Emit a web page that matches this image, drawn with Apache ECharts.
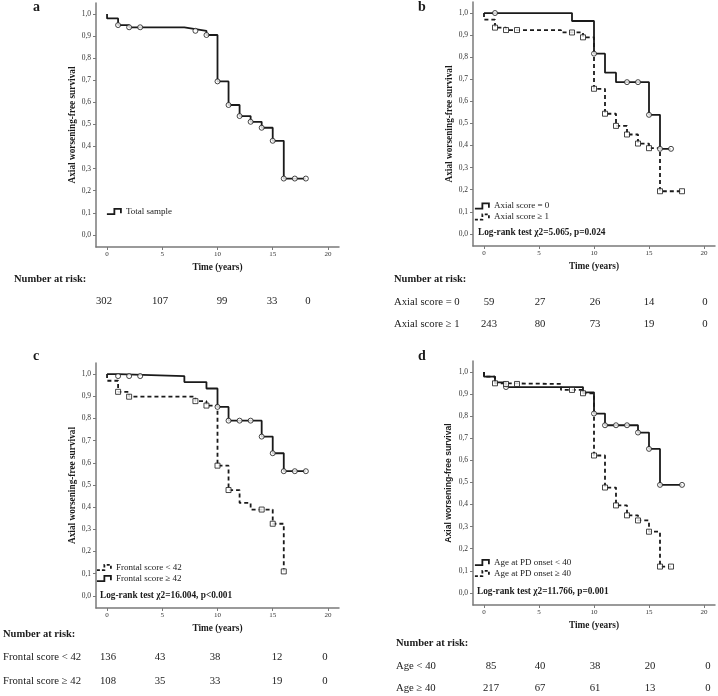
<!DOCTYPE html>
<html><head><meta charset="utf-8">
<script src="https://cdn.jsdelivr.net/npm/echarts@6/dist/echarts.min.js"></script>
<style>html,body{margin:0;padding:0;background:#fff}#c{width:718px;height:696px}</style>
</head><body><div id="c"></div>
<script>
// ---- tick labels ----
const xTicks = [0, 5, 10, 15, 20];
const yTicks = [0, 0.1, 0.2, 0.3, 0.4, 0.5, 0.6, 0.7, 0.8, 0.9, 1.0];
const yTickLabels = ['0,0','0,1','0,2','0,3','0,4','0,5','0,6','0,7','0,8','0,9','1,0'];

// ---- panel a ----
const aTimes = [0, 0, 1, 2, 7, 8, 9, 10, 11, 12, 13, 14, 15, 16, 18];
const aSurv  = [1, 0.98, 0.95, 0.94, 0.932, 0.924, 0.905, 0.695, 0.588, 0.538, 0.512, 0.485, 0.426, 0.255, 0.255];
const aCensT = [1, 2, 3, 8, 9, 10, 11, 12, 13, 14, 15, 16, 17, 18];
const aCensS = [0.95, 0.94, 0.94, 0.924, 0.905, 0.695, 0.588, 0.538, 0.512, 0.485, 0.426, 0.255, 0.255, 0.255];

// ---- panel b ----
const b0Times = [0, 8, 10, 11, 12, 15, 16, 17];
const b0Surv  = [1, 0.964, 0.816, 0.73, 0.687, 0.539, 0.385, 0.385];
const b0CensT = [1, 10, 13, 14, 15, 16, 17];
const b0CensS = [1, 0.816, 0.687, 0.687, 0.539, 0.385, 0.385];
const b1Times = [0, 0, 1, 2, 7, 9, 10, 11, 12, 13, 14, 15, 16, 18];
const b1Surv  = [1, 0.97, 0.934, 0.923, 0.912, 0.89, 0.657, 0.544, 0.489, 0.45, 0.409, 0.388, 0.193, 0.193];
const b1CensT = [1, 2, 3, 8, 9, 10, 11, 12, 13, 14, 15, 16, 18];
const b1CensS = [0.934, 0.923, 0.923, 0.912, 0.89, 0.657, 0.544, 0.489, 0.45, 0.409, 0.388, 0.193, 0.193];

// ---- panel c ----
const c0Times = [0, 0, 1, 2, 8, 9, 10, 11, 12, 13, 15, 16];
const c0Surv  = [1, 0.97, 0.92, 0.898, 0.878, 0.858, 0.587, 0.477, 0.419, 0.389, 0.325, 0.11];
const c0CensT = [1, 2, 8, 9, 10, 11, 14, 15, 16];
const c0CensS = [0.92, 0.898, 0.878, 0.858, 0.587, 0.477, 0.389, 0.325, 0.11];
const c1Times = [0, 1, 7, 9, 10, 11, 14, 15, 16, 18];
const c1Surv  = [1, 0.991, 0.964, 0.935, 0.852, 0.79, 0.718, 0.643, 0.562, 0.562];
const c1CensT = [1, 2, 3, 10, 11, 12, 13, 14, 15, 16, 17, 18];
const c1CensS = [0.991, 0.991, 0.991, 0.852, 0.79, 0.79, 0.79, 0.718, 0.643, 0.562, 0.562, 0.562];

// ---- panel d ----
const d0Times = [0, 0, 1, 2, 9, 10, 11, 14, 15, 16, 18];
const d0Surv  = [1, 0.979, 0.953, 0.932, 0.908, 0.812, 0.759, 0.726, 0.652, 0.489, 0.489];
const d0CensT = [2, 10, 11, 12, 13, 14, 15, 16, 18];
const d0CensS = [0.932, 0.812, 0.759, 0.759, 0.759, 0.726, 0.652, 0.489, 0.489];
const d1Times = [0, 0, 1, 2, 7, 9, 10, 11, 12, 13, 14, 15, 16, 17];
const d1Surv  = [1, 0.979, 0.949, 0.946, 0.919, 0.904, 0.622, 0.477, 0.396, 0.351, 0.328, 0.277, 0.119, 0.119];
const d1CensT = [1, 2, 3, 8, 9, 10, 11, 12, 13, 14, 15, 16, 17];
const d1CensS = [0.949, 0.946, 0.946, 0.919, 0.904, 0.622, 0.477, 0.396, 0.351, 0.328, 0.277, 0.119, 0.119];

// ---- numbers at risk ----
const riskA  = [302, 107, 99, 33, 0];
const riskB0 = [59, 27, 26, 14, 0];
const riskB1 = [243, 80, 73, 19, 0];
const riskC0 = [136, 43, 38, 12, 0];
const riskC1 = [108, 35, 33, 19, 0];
const riskD0 = [85, 40, 38, 20, 0];
const riskD1 = [217, 67, 61, 13, 0];
const riskLabelsB = ['Axial score = 0', 'Axial score \u2265 1'];
const riskLabelsC = ['Frontal score < 42', 'Frontal score \u2265 42'];
const riskLabelsD = ['Age < 40', 'Age \u2265 40'];

const panelLetters = ['a', 'b', 'c', 'd'];
const logRankTexts = ['Log-rank test \u03c72=5.065, p=0.024', 'Log-rank test \u03c72=16.004, p<0.001', 'Log-rank test \u03c72=11.766, p=0.001'];

// ---------------------------------------------------------------
const SERIF = 'Liberation Serif';
const SANS = 'Liberation Sans';
const INK = '#1a1a1a';
const AXIS = '#7a7a7a';
const zip = (t, s) => t.map((v, i) => [v, s[i]]);
const stepIcon = 'path://M0,6 L8.7,6 L8.7,0 L16.3,0 L16.3,5';

const grids = [
  {left: 96, top: 3, width: 243, height: 244},
  {left: 473, top: 2, width: 242, height: 244},
  {left: 96, top: 363, width: 243, height: 245},
  {left: 473, top: 361, width: 242, height: 244}
];

function xAxisCfg(gi) {
  return {
    gridIndex: gi, type: 'value', min: -1, max: 21,
    name: 'Time (years)', nameLocation: 'middle', nameGap: 16,
    nameTextStyle: {fontFamily: SERIF, fontWeight: 'bold', fontSize: 9.3, color: INK},
    axisLine: {show: true, onZero: false, lineStyle: {color: AXIS, width: 1.5}},
    axisTick: {show: true, length: 3, customValues: xTicks, lineStyle: {color: AXIS}},
    axisLabel: {customValues: xTicks, fontFamily: SERIF, fontSize: 7, color: '#333', margin: 4},
    splitLine: {show: false}
  };
}
function yAxisCfg(gi, fam, gap) {
  return {
    gridIndex: gi, type: 'value', min: -0.055, max: 1.05,
    name: 'Axial worsening-free survival', nameLocation: 'middle', nameGap: gap,
    nameTextStyle: {fontFamily: fam, fontWeight: 'bold', fontSize: fam === SANS ? 8.6 : 9.3, color: INK},
    axisLine: {show: true, onZero: false, lineStyle: {color: AXIS, width: 1.5}},
    axisTick: {show: true, length: 3, customValues: yTicks, lineStyle: {color: AXIS}},
    axisLabel: {customValues: yTicks, formatter: v => yTickLabels[Math.round(v * 10)],
      fontFamily: SERIF, fontSize: 7.5, color: '#333', margin: 5},
    splitLine: {show: false}
  };
}

function kmLine(name, gi, times, surv, dashed) {
  return {
    name, type: 'line', step: 'end', xAxisIndex: gi, yAxisIndex: gi,
    data: zip(times, surv), showSymbol: false, symbol: 'none', z: 2,
    lineStyle: {color: INK, width: 1.8, type: dashed ? [4, 3] : 'solid'},
    itemStyle: {color: INK}, animation: false
  };
}
function censor(name, gi, times, surv, sym) {
  return {
    name, type: 'scatter', xAxisIndex: gi, yAxisIndex: gi,
    data: zip(times, surv), symbol: sym, symbolSize: 5, z: 3,
    itemStyle: {color: '#fff', borderColor: INK, borderWidth: 1}, animation: false
  };
}
function legendCfg(names, dashed, left, top) {
  return {
    orient: 'vertical', left, top, itemWidth: 14, itemHeight: 6, itemGap: 0, padding: 0,
    selectedMode: false,
    textStyle: {fontFamily: SERIF, fontSize: 9, color: INK, lineHeight: 11},
    data: names.map((n, i) => ({
      name: n, icon: stepIcon,
      itemStyle: {color: 'rgba(0,0,0,0)', borderColor: INK, borderWidth: 1.8, borderType: dashed[i] ? [3, 2] : 'solid'}
    }))
  };
}

const series = [
  kmLine('Total sample', 0, aTimes, aSurv, false),
  censor('Total sample censored', 0, aCensT, aCensS, 'circle'),
  kmLine('Axial score = 0', 1, b0Times, b0Surv, false),
  kmLine('Axial score \u2265 1', 1, b1Times, b1Surv, true),
  censor('Axial score = 0 censored', 1, b0CensT, b0CensS, 'circle'),
  censor('Axial score \u2265 1 censored', 1, b1CensT, b1CensS, 'rect'),
  kmLine('Frontal score < 42', 2, c0Times, c0Surv, true),
  kmLine('Frontal score \u2265 42', 2, c1Times, c1Surv, false),
  censor('Frontal score < 42 censored', 2, c0CensT, c0CensS, 'rect'),
  censor('Frontal score \u2265 42 censored', 2, c1CensT, c1CensS, 'circle'),
  kmLine('Age at PD onset < 40', 3, d0Times, d0Surv, false),
  kmLine('Age at PD onset \u2265 40', 3, d1Times, d1Surv, true),
  censor('Age at PD onset < 40 censored', 3, d0CensT, d0CensS, 'circle'),
  censor('Age at PD onset \u2265 40 censored', 3, d1CensT, d1CensS, 'rect')
];

const letterPos = [[33, 0], [418, 0], [33, 349], [418, 349]];
const logRankPos = [[478, 228], [100, 591], [477, 587]];
const titles = panelLetters.map((t, i) => ({
  text: t, left: letterPos[i][0], top: letterPos[i][1], padding: 0,
  textStyle: {fontFamily: SERIF, fontWeight: 'bold', fontSize: 14, color: INK}
})).concat(logRankTexts.map((t, i) => ({
  text: t, left: logRankPos[i][0], top: logRankPos[i][1], padding: 0,
  textStyle: {fontFamily: SERIF, fontWeight: 'bold', fontSize: 9.3, color: INK}
})));

// risk tables
const tables = [
  {hx: 14, hy: 279, lx: 14, rows: [[null, riskA, 301]], cols: [104, 160, 222, 272, 308]},
  {hx: 394, hy: 279, lx: 394, rows: [[riskLabelsB[0], riskB0, 302], [riskLabelsB[1], riskB1, 324]], cols: [489, 540, 595, 649, 705]},
  {hx: 3, hy: 634, lx: 3, rows: [[riskLabelsC[0], riskC0, 657], [riskLabelsC[1], riskC1, 681]], cols: [108, 160, 215, 277, 325]},
  {hx: 396, hy: 643, lx: 396, rows: [[riskLabelsD[0], riskD0, 666], [riskLabelsD[1], riskD1, 688]], cols: [491, 540, 595, 650, 708]}
];
function txt(x, y, s, font, align) {
  return {type: 'text', x, y, silent: true, style: {
    text: String(s), font, fill: INK,
    textAlign: align, align: align, textVerticalAlign: 'middle', verticalAlign: 'middle'
  }};
}
const graphics = [];
tables.forEach(tb => {
  graphics.push(txt(tb.hx, tb.hy, 'Number at risk:', 'bold 10.5px "Liberation Serif"', 'left'));
  tb.rows.forEach(r => {
    if (r[0]) graphics.push(txt(tb.lx, r[2], r[0], '10.7px "Liberation Serif"', 'left'));
    r[1].forEach((v, j) => graphics.push(txt(tb.cols[j], r[2], v, '10.7px "Liberation Serif"', 'center')));
  });
});

const chart = echarts.init(document.getElementById('c'), null, {renderer: 'canvas'});
chart.setOption({
  backgroundColor: '#fff',
  animation: false,
  title: titles,
  grid: grids,
  xAxis: [0, 1, 2, 3].map(xAxisCfg),
  yAxis: [yAxisCfg(0, SERIF, 19), yAxisCfg(1, SERIF, 19), yAxisCfg(2, SERIF, 19), yAxisCfg(3, SANS, 20)],
  legend: [
    legendCfg(['Total sample'], [false], 106, 206),
    legendCfg(['Axial score = 0', 'Axial score \u2265 1'], [false, true], 474, 200.5),
    legendCfg(['Frontal score < 42', 'Frontal score \u2265 42'], [true, false], 96, 562),
    legendCfg(['Age at PD onset < 40', 'Age at PD onset \u2265 40'], [false, true], 474, 557)
  ],
  series,
  graphic: graphics
});
</script>
</body></html>
